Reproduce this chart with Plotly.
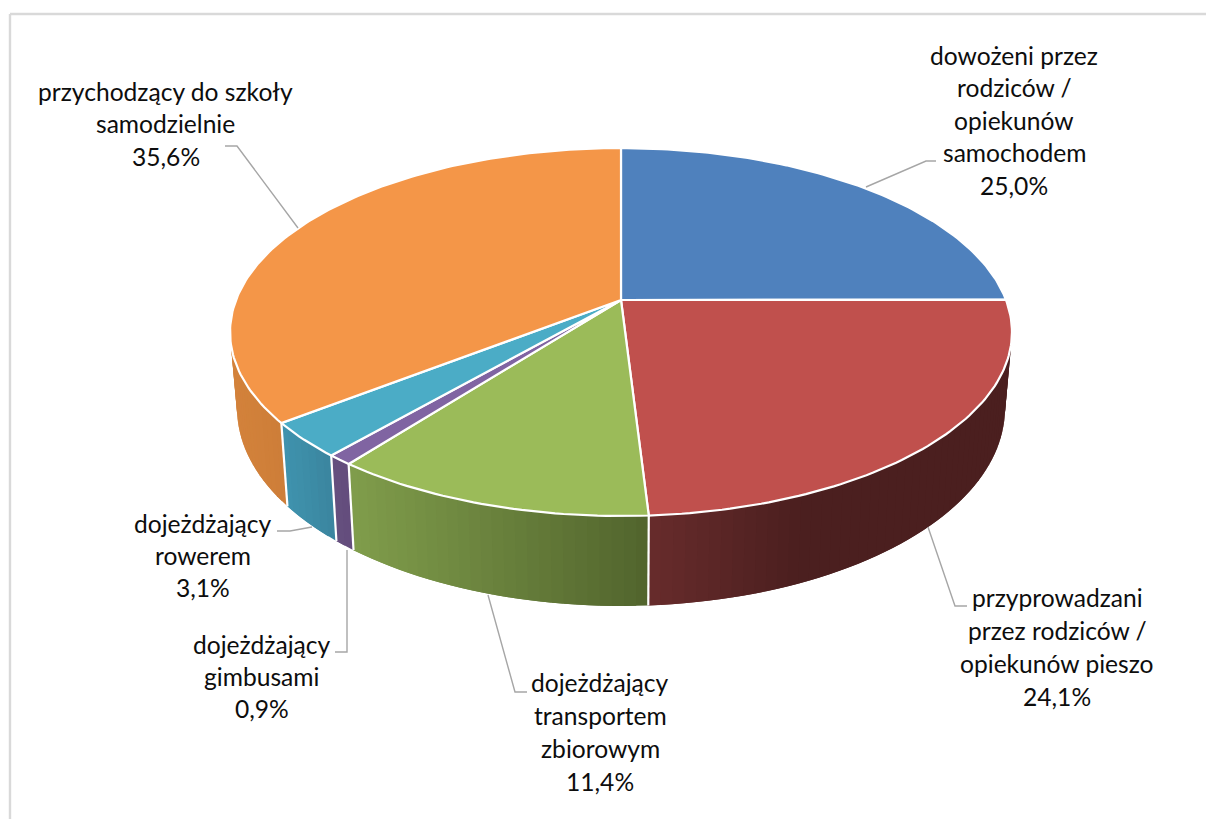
import numpy as np
import plotly.graph_objects as go

# --- data ---
categories = [
    "dowożeni przez rodziców / opiekunów samochodem",
    "przyprowadzani przez rodziców / opiekunów pieszo",
    "dojeżdżający transportem zbiorowym",
    "dojeżdżający gimbusami",
    "dojeżdżający rowerem",
    "przychodzący do szkoły samodzielnie",
]
values = [25.0, 24.1, 11.4, 0.9, 3.1, 35.6]
value_labels = ["25,0%", "24,1%", "11,4%", "0,9%", "3,1%", "35,6%"]
label_lines = [
    ["dowożeni przez", "rodziców /", "opiekunów", "samochodem"],
    ["przyprowadzani", "przez rodziców /", "opiekunów pieszo"],
    ["dojeżdżający", "transportem", "zbiorowym"],
    ["dojeżdżający", "gimbusami"],
    ["dojeżdżający", "rowerem"],
    ["przychodzący do szkoły", "samodzielnie"],
]

# --- styles and layout ---
top_colors = ["#4f81bd", "#c0504d", "#9bbb59", "#8064a2", "#4bacc6", "#f49648"]
# wall colour at left x, wall colour at right x, and the x span of the gradient
wall_gradients = [
    ("#2c4a6e", "#2c4a6e", 620, 1010),
    ("#672b2b", "#4b1f1f", 650, 800),
    ("#7f9c4b", "#52652d", 355, 645),
    ("#66507f", "#624a7c", 330, 355),
    ("#3f92ad", "#3a849d", 285, 335),
    ("#d3823b", "#cc7d38", 230, 290),
]
label_pos = [  # centre x, y of first line, line pitch
    (1014, 55, 32.5),
    (1057, 597, 33.3),
    (600, 682, 33.3),
    (261.5, 644, 32.0),
    (203, 523, 32.0),
    (165.5, 91, 32.5),
]
leaders = [
    ([866, 926, 936], [187, 161, 161]),
    ([928, 955, 967], [527, 606, 606]),
    ([488, 515, 527], [595, 692, 692]),
    ([347, 347, 335], [550, 652, 652]),
    ([312, 290, 277], [527, 531, 531]),
    ([298, 237, 225], [228, 146, 146]),
]
CX, CY, A, B, K, DEPTH, BOTTOM_SCALE = 621, 300, 385, 178.4, 0.174, 74.3, 0.982
FONT = "Lato"
FONT_SIZE = 24.6


def top_pt(theta):
    c, s = np.sin(theta), -np.cos(theta)
    w = 1 - K * s
    return CX + A * c / w, CY + B * s / w


def bottom_pt(theta):
    c, s = np.sin(theta), -np.cos(theta)
    w = 1 - K * s
    return CX + BOTTOM_SCALE * A * c / w, CY + B * s / w + DEPTH / w


def hexrgb(h):
    return np.array([int(h[i:i + 2], 16) for i in (1, 3, 5)], float)


def wall_color(i, x):
    c0, c1, x0, x1 = wall_gradients[i]
    t = np.clip((x - x0) / (x1 - x0), 0, 1)
    r, g, b = hexrgb(c0) * (1 - t) + hexrgb(c1) * t
    return f"rgb({r:.0f},{g:.0f},{b:.0f})"


fractions = np.array(values) / sum(values)
edges = np.concatenate([[0], np.cumsum(fractions)]) * 2 * np.pi

fig = go.Figure()


def add_poly(xs, ys, fill, line_color=None, line_width=0.0):
    fig.add_trace(go.Scatter(
        x=list(xs), y=list(ys), mode="lines", fill="toself", fillcolor=fill,
        line=dict(color=line_color or fill, width=line_width),
        hoverinfo="skip", showlegend=False))


# outer walls, only the part that faces the viewer; each strip overlaps the next
FRONT0, FRONT1 = np.pi * 0.44, np.pi * 1.56
for i in range(len(values)):
    t0, t1 = max(edges[i], FRONT0), min(edges[i + 1], FRONT1)
    if t1 <= t0:
        continue
    n = max(2, int((t1 - t0) / np.radians(1.5)))
    th = np.linspace(t0, t1, n + 1)
    step = th[1] - th[0]
    for a, b in zip(th[:-1], th[1:]):
        seg = np.linspace(a, min(b + step, t1), 4)
        xt, yt = top_pt(seg)
        xb, yb = bottom_pt(seg[::-1])
        add_poly(np.r_[xt, xb, xt[0]], np.r_[yt, yb, yt[0]],
                 wall_color(i, (top_pt(a)[0] + top_pt(b)[0]) / 2))

# white seams between the walls
for e in edges[1:-1]:
    if FRONT0 < e < FRONT1:
        xa, ya = top_pt(e)
        xb, yb = bottom_pt(e)
        fig.add_trace(go.Scatter(x=[xa, xb], y=[ya, yb], mode="lines",
                                 line=dict(color="white", width=2.2),
                                 hoverinfo="skip", showlegend=False))

# top face
for i in range(len(values)):
    th = np.linspace(edges[i], edges[i + 1], max(3, int((edges[i + 1] - edges[i]) / np.radians(1))))
    xs, ys = top_pt(th)
    add_poly(np.r_[CX, xs, CX], np.r_[CY, ys, CY], top_colors[i], "white", 2.2)

# leader lines
for xs, ys in leaders:
    fig.add_trace(go.Scatter(x=xs, y=ys, mode="lines",
                             line=dict(color="#a6a6a6", width=1.4),
                             hoverinfo="skip", showlegend=False))

# data labels, one annotation per line so the line pitch can be matched
for lines, val, (cx, y0, pitch) in zip(label_lines, value_labels, label_pos):
    for j, txt in enumerate(lines + [val]):
        fig.add_annotation(x=cx, y=y0 + j * pitch, text=txt, showarrow=False,
                           xanchor="center", yanchor="middle",
                           font=dict(family=FONT, size=FONT_SIZE, color="#0d0d0d"))

# chart frame: only the top and left edges fall inside the picture
BORDER = dict(type="line", line=dict(color="#d9d9d9", width=2.4), layer="below")
fig.update_layout(
    width=1206, height=819, autosize=False,
    margin=dict(l=0, r=0, t=0, b=0),
    paper_bgcolor="white", plot_bgcolor="white", showlegend=False,
    xaxis=dict(range=[0, 1206], visible=False, fixedrange=True),
    yaxis=dict(range=[819, 0], visible=False, fixedrange=True),
    shapes=[
        dict(x0=10, x1=1206, y0=14, y1=14, **BORDER),
        dict(x0=10, x1=10, y0=14, y1=819, **BORDER),
    ],
)

fig.write_html("out.html", config={"displayModeBar": False},
               post_script="document.body.style.margin='0';document.body.style.overflow='hidden';")
